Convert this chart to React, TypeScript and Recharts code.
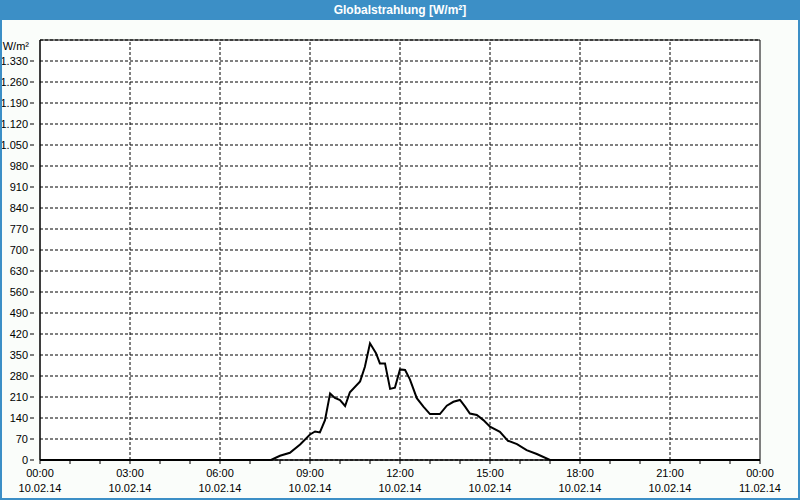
import React from "react"
import { CartesianGrid, Line, LineChart, ReferenceArea, ReferenceLine, XAxis, YAxis } from "recharts"

// time of day in hours, global radiation in W/m²
const hours = [
  0, 7.7, 8.0, 8.33, 8.67, 9.0, 9.17, 9.33, 9.5, 9.67, 9.83, 10.0, 10.17, 10.33, 10.67, 10.83, 11.0,
  11.2, 11.33, 11.5, 11.67, 11.83, 12.0, 12.17, 12.33, 12.56, 12.78, 13.0, 13.33, 13.56, 13.78, 14.0,
  14.17, 14.33, 14.56, 14.78, 15.0, 15.33, 15.6, 15.9, 16.22, 16.56, 17.0, 24,
]
const radiation = [
  0, 0, 14, 24, 52, 85, 95, 92, 133, 222, 207, 200, 180, 226, 262, 311, 389,
  356, 322, 322, 237, 241, 302, 300, 269, 206, 178, 153, 153, 181, 194, 200,
  178, 155, 150, 133, 111, 94, 64, 53, 33, 20, 0, 0,
]

const yTicks = [0, 70, 140, 210, 280, 350, 420, 490, 560, 630, 700, 770, 840, 910, 980, 1050, 1120, 1190, 1260, 1330, 1400]
const hourTicks = [0, 1, 2, 3, 4, 5, 6, 7, 8, 9, 10, 11, 12, 13, 14, 15, 16, 17, 18, 19, 20, 21, 22, 23, 24]
const gridHours = [3, 6, 9, 12, 15, 18, 21]
const timeLabels: Record<number, [string, string]> = {
  0: ["00:00", "10.02.14"],
  3: ["03:00", "10.02.14"],
  6: ["06:00", "10.02.14"],
  9: ["09:00", "10.02.14"],
  12: ["12:00", "10.02.14"],
  15: ["15:00", "10.02.14"],
  18: ["18:00", "10.02.14"],
  21: ["21:00", "10.02.14"],
  24: ["00:00", "11.02.14"],
}

const data = hours.map((h, i) => ({ h, v: radiation[i] }))

const FONT = "'Liberation Sans', Arial, sans-serif"

const XTick = ({ x, y, payload }: any) => {
  const label = timeLabels[payload.value]
  if (!label) return null
  return (
    <g>
      <text x={x} y={y + 11} textAnchor="middle" fontSize={11} fontFamily={FONT} fill="#000">
        {label[0]}
      </text>
      <text x={x} y={y + 26} textAnchor="middle" fontSize={11} fontFamily={FONT} fill="#000">
        {label[1]}
      </text>
    </g>
  )
}

const YTick = ({ x, y, payload }: any) => {
  const v = payload.value
  if (v === 1400) {
    return (
      <text x={x} y={y + 10} textAnchor="end" fontSize={11} fontFamily={FONT} fill="#000">
        W/m²
      </text>
    )
  }
  return (
    <g>
      <line x1={x + 1} x2={x + 5} y1={y} y2={y} stroke="#000" />
      <text x={x - 1} y={y + 4} textAnchor="end" fontSize={11} fontFamily={FONT} fill="#000">
        {v.toLocaleString("de-DE")}
      </text>
    </g>
  )
}

export default function App() {
  return (
    <div style={{ position: "absolute", left: 0, top: 0, width: 800, height: 500, background: "#fafdfa" }}>
      <LineChart width={800} height={500} data={data} margin={{ top: 40, right: 40, bottom: 0, left: 0 }}>
        <CartesianGrid vertical={false} stroke="#000" strokeDasharray="3 2" fill="#fff" />
        {gridHours.map((h) => (
          <ReferenceLine key={h} x={h} stroke="#000" strokeDasharray="3 2" />
        ))}
        <XAxis
          dataKey="h"
          type="number"
          domain={[0, 24]}
          ticks={hourTicks}
          interval={0}
          height={40}
          stroke="#000"
          tickSize={4}
          tick={<XTick />}
        />
        <YAxis
          type="number"
          domain={[0, 1400]}
          ticks={yTicks}
          interval={0}
          width={40}
          stroke="#000"
          tickLine={false}
          tickMargin={5}
          tick={<YTick />}
        />
        <ReferenceArea x1={0} x2={24} y1={0} y2={1400} fill="none" stroke="#000" strokeOpacity={1} fillOpacity={0} />
        <Line
          type="linear"
          dataKey="v"
          stroke="#000"
          strokeWidth={2}
          dot={false}
          isAnimationActive={false}
        />
      </LineChart>
      <div
        style={{
          position: "absolute",
          left: 0,
          top: 0,
          width: 800,
          height: 20,
          background: "#3c8fc6",
          color: "#fff",
          fontFamily: FONT,
          fontWeight: "bold",
          fontSize: 12,
          lineHeight: "20px",
          textAlign: "center",
        }}
      >
        Globalstrahlung [W/m²]
      </div>
      <div
        style={{
          position: "absolute",
          left: 0,
          top: 0,
          width: 800,
          height: 500,
          boxSizing: "border-box",
          border: "2px solid #3c8fc6",
          pointerEvents: "none",
        }}
      />
    </div>
  )
}
